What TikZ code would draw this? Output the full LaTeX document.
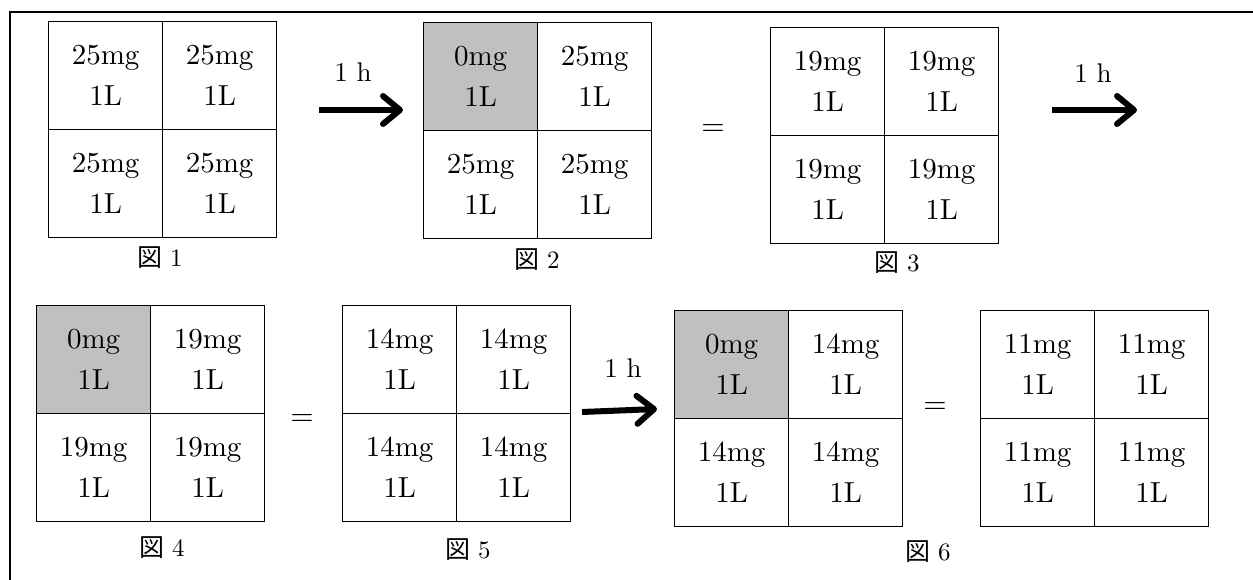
\documentclass[tikz,border=0pt]{standalone}
\usepackage{fontspec}
\setmainfont{lmroman10-regular.otf}
\newfontfamily\cjk{Noto Sans CJK JP}
\usetikzlibrary{arrows.meta}
\definecolor{shade}{HTML}{C0C0C0}
\tikzset{
  cellbox/.style={draw, line width=1.3pt, minimum width=114pt, minimum height=108pt,
    inner sep=0pt, anchor=north west, align=center, font=\fontsize{29}{41}\selectfont},
  grayc/.style={cellbox, fill=shade},
  whitec/.style={cellbox, fill=white},
  figlabel/.style={font=\fontsize{25}{28}\selectfont},
  eqsign/.style={font=\fontsize{30}{34}\selectfont},
  hlabel/.style={font=\fontsize{27}{30}\selectfont},
  bigarrow/.style={line width=6pt, -{Straight Barb[length=17pt,width=28pt,round]}},
  frameline/.style={line width=2.2pt}
}
% #1 name, #2 left, #3 top, #4 TL style, #5 TL text, #6 other text
\newcommand\mgrid[6]{%
  \node[#4] (#1a) at (#2,#3) {#5};
  \node[whitec] (#1b) at (#2+114,#3) {#6};
  \node[whitec] (#1c) at (#2,#3+108) {#6};
  \node[whitec] (#1d) at (#2+114,#3+108) {#6};
}
\begin{document}
\begin{tikzpicture}[x=1pt,y=-1pt]
\useasboundingbox (0,0) rectangle (1253,580);
% frame
\coordinate (fbl) at (10,581);
\coordinate (ftl) at (10,12);
\coordinate (ftr) at (1254,12);
\draw[frameline] (fbl) -- (ftl) -- (ftr);

% grids
\mgrid{g1}{48}{21}{whitec}{25mg\\1L}{25mg\\1L}
\mgrid{g2}{423}{22}{grayc}{0mg\\1L}{25mg\\1L}
\mgrid{g3}{770}{27}{whitec}{19mg\\1L}{19mg\\1L}
\mgrid{g4}{36}{305}{grayc}{0mg\\1L}{19mg\\1L}
\mgrid{g5}{342}{305}{whitec}{14mg\\1L}{14mg\\1L}
\mgrid{g6}{674}{310}{grayc}{0mg\\1L}{14mg\\1L}
\mgrid{g7}{980}{310}{whitec}{11mg\\1L}{11mg\\1L}

% figure labels
\node[figlabel] (l1) at (160,258) {{\cjk 図}\hspace{0.3em}1};
\node[figlabel] (l2) at (537,260) {{\cjk 図}\hspace{0.3em}2};
\node[figlabel] (l3) at (897,263) {{\cjk 図}\hspace{0.3em}3};
\node[figlabel] (l4) at (162,548) {{\cjk 図}\hspace{0.3em}4};
\node[figlabel] (l5) at (468,550) {{\cjk 図}\hspace{0.3em}5};
\node[figlabel] (l6) at (928,552) {{\cjk 図}\hspace{0.3em}6};

% equal signs
\node[eqsign] (e1) at (713,130) {=};
\node[eqsign] (e2) at (302,420) {=};
\node[eqsign] (e3) at (935,408) {=};

% arrows
\coordinate (a1s) at (319,110);
\coordinate (a1e) at (403,110);
\coordinate (a2s) at (1052,110);
\coordinate (a2e) at (1137,110);
\coordinate (a3s) at (582,412);
\coordinate (a3e) at (657,409);
\draw[bigarrow] (a1s) -- (a1e);
\draw[bigarrow] (a2s) -- (a2e);
\draw[bigarrow] (a3s) -- (a3e);
\node[hlabel] (h1) at (353,72) {1 h};
\node[hlabel] (h2) at (1093,73) {1 h};
\node[hlabel] (h3) at (623,368) {1 h};
\end{tikzpicture}
\end{document}
